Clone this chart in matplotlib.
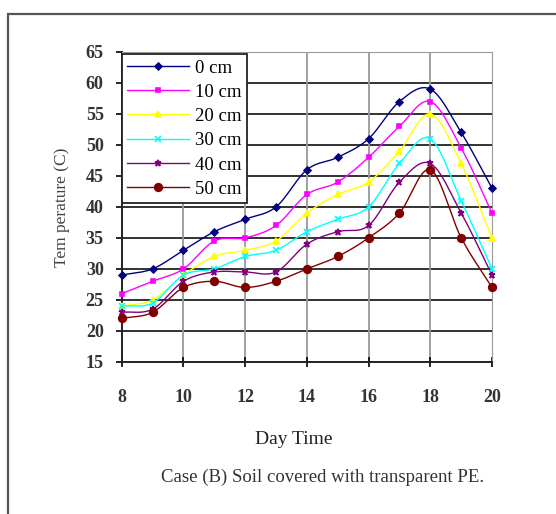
import numpy as np
import matplotlib
matplotlib.use("Agg")
import matplotlib.pyplot as plt
from matplotlib.patches import Rectangle

# Soil temperature through the day at several depths (transparent PE cover)
hours = [8, 9, 10, 11, 12, 13, 14, 15, 16, 17, 18, 19, 20]
depth_labels = ["0 cm", "10 cm", "20 cm", "30 cm", "40 cm", "50 cm"]
temp_0cm = [29, 30, 33, 36, 38, 40, 46, 48, 51, 57, 59, 52, 43]
temp_10cm = [26, 28, 30, 34.5, 35, 37, 42, 44, 48, 53, 57, 49.5, 39]
temp_20cm = [24, 25, 29, 32, 33, 34.5, 39, 42, 44, 49, 55, 47, 35]
temp_30cm = [24, 24.5, 29, 30, 32, 33, 36, 38, 40, 47, 51, 41, 30]
temp_40cm = [23, 23.5, 28, 29.5, 29.5, 29.5, 34, 36, 37, 44, 47, 39, 29]
temp_50cm = [22, 23, 27, 28, 27, 28, 30, 32, 35, 39, 46, 35, 27]
x_ticks = [8, 10, 12, 14, 16, 18, 20]
y_ticks = [15, 20, 25, 30, 35, 40, 45, 50, 55, 60, 65]

series = [temp_0cm, temp_10cm, temp_20cm, temp_30cm, temp_40cm, temp_50cm]
colors = ["#000080", "#FF00FF", "#FFFF00", "#00FFFF", "#800080", "#800000"]
markers = ["D", "s", "^", "x", "*", "o"]
msizes = [3.5, 3.5, 4, 4, 5, 5.5]


def smooth(xs, ys, n=12):
    """Catmull-Rom curve through the points, for smoothed line drawing."""
    xs = np.asarray(xs, float)
    ys = np.asarray(ys, float)
    px = np.concatenate([[2 * xs[0] - xs[1]], xs, [2 * xs[-1] - xs[-2]]])
    py = np.concatenate([[2 * ys[0] - ys[1]], ys, [2 * ys[-1] - ys[-2]]])
    ox, oy = [], []
    t = np.linspace(0, 1, n, endpoint=False)
    for i in range(1, len(px) - 2):
        for p, o in ((px, ox), (py, oy)):
            p0, p1, p2, p3 = p[i - 1], p[i], p[i + 1], p[i + 2]
            o.extend(0.5 * ((2 * p1) + (-p0 + p2) * t
                            + (2 * p0 - 5 * p1 + 4 * p2 - p3) * t ** 2
                            + (-p0 + 3 * p1 - 3 * p2 + p3) * t ** 3))
    ox.append(xs[-1])
    oy.append(ys[-1])
    return np.array(ox), np.array(oy)


serif = ["Liberation Serif", "DejaVu Serif"]
plt.rcParams["font.family"] = serif

fig = plt.figure(figsize=(5.56, 5.14), dpi=100)
ax = fig.add_axes([0.219, 0.296, 0.666, 0.603])

# outer frame of the figure panel
fig.patches.append(Rectangle((8 / 556, -0.2), 1.2, 1.2 - 14 / 514,
                             transform=fig.transFigure, fill=False,
                             edgecolor="#555555", linewidth=1.6, zorder=0))

for yv in y_ticks[1:-1]:
    ax.axhline(yv, color="#222222", linewidth=1.3, zorder=1)
for xv in x_ticks[1:-1]:
    ax.axvline(xv, color="#999999", linewidth=1.3, zorder=1)

handles = []
for vals, c, m, ms, lab in zip(series, colors, markers, msizes, depth_labels):
    sx, sy = smooth(hours, vals)
    ax.plot(sx, sy, color=c, linewidth=1.0, zorder=3, clip_on=False)
    ax.plot(hours, vals, linestyle="none", marker=m, markersize=ms,
            color=c, markeredgecolor=c, markeredgewidth=1.2, zorder=4,
            clip_on=False)
    h, = ax.plot([], [], color=c, linewidth=1.0, marker=m, markersize=ms,
                 markeredgecolor=c, markeredgewidth=1.2, label=lab)
    handles.append(h)

ax.set_xlim(8, 20)
ax.set_ylim(15, 65)
ax.set_xticks(x_ticks)
ax.set_yticks(y_ticks)
ax.tick_params(axis="x", direction="inout", length=7, width=1.2,
               pad=16, labelsize=13)
ax.tick_params(axis="y", direction="out", length=4, width=1.2,
               pad=9, labelsize=13)
for lbl in ax.get_xticklabels() + ax.get_yticklabels():
    lbl.set_fontweight("bold")
    lbl.set_color("#333333")

ax.spines["left"].set_color("#222222")
ax.spines["bottom"].set_color("#222222")
ax.spines["left"].set_linewidth(1.4)
ax.spines["bottom"].set_linewidth(1.4)
ax.spines["top"].set_color("#999999")
ax.spines["right"].set_color("#999999")

ax.set_ylabel("Tem perature (C)", fontsize=12.5, color="#444444", labelpad=11)

leg = ax.legend(handles=handles, loc="upper left", bbox_to_anchor=(0.0, 0.994),
                fontsize=13.5, frameon=True, fancybox=False, edgecolor="#222222",
                framealpha=1, borderaxespad=0.0, handlelength=3.3,
                handletextpad=0.3, labelspacing=0.38, borderpad=0.3)
leg.get_frame().set_linewidth(1.3)
leg.set_zorder(5)

fig.text(294 / 556, 1 - 440 / 514, "Day Time", ha="center", va="center",
         fontsize=14, color="#222222")
fig.text(323 / 556, 1 - 477 / 514, "Case (B) Soil covered with transparent PE.",
         ha="center", va="center", fontsize=13.5, color="#333333")

fig.savefig("out.png", dpi=100)
